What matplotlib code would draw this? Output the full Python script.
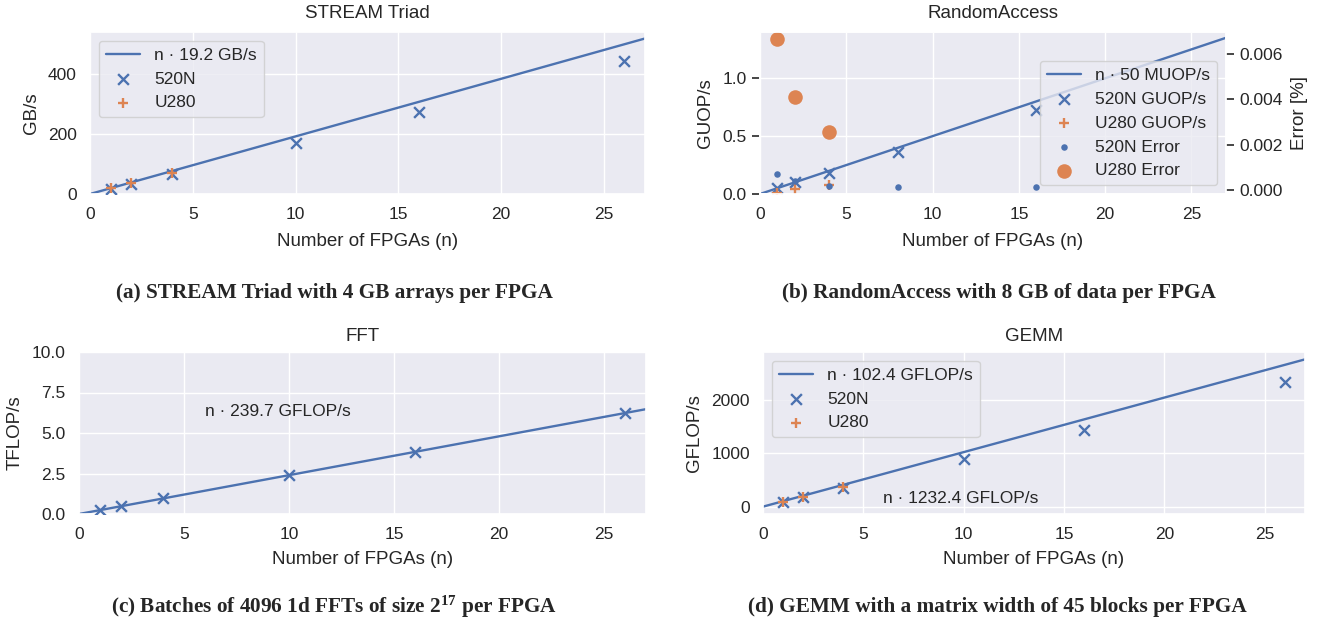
import numpy as np
import matplotlib
matplotlib.use("Agg")
import matplotlib.pyplot as plt
import seaborn as sns

sns.set_theme(style="darkgrid")
plt.rcParams["font.family"] = ["Liberation Sans", "DejaVu Sans"]
plt.rcParams["mathtext.fontset"] = "stix"
plt.rcParams["axes.titlepad"] = 10
plt.rcParams["axes.labelpad"] = 6

blue, orange = sns.color_palette("deep")[0], sns.color_palette("deep")[1]

# ---- data ----
n_520 = [1, 2, 4, 10, 16, 26]
n_u280 = [1, 2, 4]

stream_rate = 19.2  # GB/s per FPGA
stream_520 = [18, 35, 68, 170, 272, 443]
stream_u280 = [19, 37, 70]

ra_rate = 0.05  # GUOP/s per FPGA
n_ra_520 = [1, 2, 4, 8, 16]
ra_520 = [0.055, 0.10, 0.18, 0.365, 0.728]
ra_u280 = [0.012, 0.04, 0.08]
ra_err_520 = [0.0007, 0.0004, 0.000175, 0.00015, 0.00015]
ra_err_u280 = [0.00665, 0.0041, 0.00258]

fft_rate = 0.2397  # TFLOP/s per FPGA
fft_520 = [0.24, 0.48, 0.96, 2.40, 3.83, 6.23]

gemm_rate = 102.4  # GFLOP/s per FPGA
gemm_520 = [88, 181, 350, 897, 1440, 2342]
gemm_u280 = [92, 185, 360]

xs = np.array([0, 27])

fig = plt.figure(figsize=(13.18, 6.25), dpi=100)
W, H = 1318, 625


def add_ax(l, r, t, b):
    return fig.add_axes([l / W, 1 - b / H, (r - l) / W, (b - t) / H])


fs = 13.5
tfs = 12.5
ms = 60
lw = 1.7

# (a) STREAM
ax = add_ax(90, 645, 32, 194)
ax.plot(xs, stream_rate * xs, color=blue, lw=lw, label="n · 19.2 GB/s")
ax.scatter(n_520, stream_520, marker="x", color=blue, s=ms, lw=1.7, label="520N", zorder=3)
ax.scatter(n_u280, stream_u280, marker="+", color=orange, s=ms, lw=1.7, label="U280", zorder=3)
ax.set_xlim(0, 27)
ax.set_ylim(0, 540)
ax.set_yticks([0, 200, 400])
ax.set_title("STREAM Triad", fontsize=fs)
ax.set_xlabel("Number of FPGAs (n)", fontsize=fs, labelpad=8)
ax.set_ylabel("GB/s", fontsize=fs)
ax.tick_params(labelsize=tfs)
ax.legend(loc="upper left", fontsize=tfs)

# (b) RandomAccess
ax = add_ax(760, 1226, 32, 194)
ax2 = ax.twinx()
h1, = ax.plot(xs, ra_rate * xs, color=blue, lw=lw, label="n · 50 MUOP/s")
h2 = ax.scatter(n_ra_520, ra_520, marker="x", color=blue, s=ms, lw=1.7, label="520N GUOP/s", zorder=3)
h3 = ax.scatter(n_u280, ra_u280, marker="+", color=orange, s=ms, lw=1.7, label="U280 GUOP/s", zorder=3)
h4 = ax2.scatter(n_ra_520, ra_err_520, marker="o", color=blue, s=22, lw=0, label="520N Error")
h5 = ax2.scatter(n_u280, ra_err_u280, marker="o", color=orange, s=110, lw=0, label="U280 Error")
ax.set_xlim(0, 27)
ax.set_ylim(0, 1.4)
ax.set_yticks([0, 0.5, 1.0])
ax2.set_ylim(-0.00016, 0.00695)
ax2.set_yticks([0, 0.002, 0.004, 0.006])
ax2.yaxis.set_major_formatter(matplotlib.ticker.FormatStrFormatter("%.3f"))
ax2.grid(False)
ax.set_title("RandomAccess", fontsize=fs)
ax.set_xlabel("Number of FPGAs (n)", fontsize=fs, labelpad=8)
ax.set_ylabel("GUOP/s", fontsize=fs)
ax2.set_ylabel("Error [%]", fontsize=fs)
ax.tick_params(labelsize=tfs)
ax.tick_params(axis="y", left=True, length=6, width=1.2, color="#262626")
ax2.tick_params(axis="y", right=True, labelsize=tfs, length=6, width=1.2, color="#262626")
ax2.legend(handles=[h1, h2, h3, h4, h5], loc="lower right", fontsize=tfs)

# (c) FFT
ax = add_ax(79, 646, 352, 514)
ax.plot(xs, fft_rate * xs, color=blue, lw=lw)
ax.scatter(n_520, fft_520, marker="x", color=blue, s=ms, lw=1.7, zorder=3)
ax.text(6, 6.3, "n · 239.7 GFLOP/s", fontsize=tfs, va="center")
ax.set_xlim(0, 27)
ax.set_ylim(0, 10)
ax.set_yticks([0, 2.5, 5, 7.5, 10])
ax.yaxis.set_major_formatter(matplotlib.ticker.FormatStrFormatter("%.1f"))
ax.set_title("FFT", fontsize=fs, pad=8)
ax.set_xlabel("Number of FPGAs (n)", fontsize=fs)
ax.set_ylabel("TFLOP/s", fontsize=fs)
ax.tick_params(labelsize=tfs)

# (d) GEMM
ax = add_ax(763, 1305, 352, 514)
ax.plot(xs, gemm_rate * xs, color=blue, lw=lw, label="n · 102.4 GFLOP/s")
ax.scatter(n_520, gemm_520, marker="x", color=blue, s=ms, lw=1.7, label="520N", zorder=3)
ax.scatter(n_u280, gemm_u280, marker="+", color=orange, s=ms, lw=1.7, label="U280", zorder=3)
ax.text(6, 150, "n · 1232.4 GFLOP/s", fontsize=tfs, va="center")
ax.set_xlim(0, 27)
ax.set_ylim(-138, 2903)
ax.set_yticks([0, 1000, 2000])
ax.set_title("GEMM", fontsize=fs, pad=8)
ax.set_xlabel("Number of FPGAs (n)", fontsize=fs)
ax.set_ylabel("GFLOP/s", fontsize=fs)
ax.tick_params(labelsize=tfs)
ax.legend(loc="upper left", fontsize=tfs)

cap = dict(fontsize=15.3, fontweight="bold", family="Liberation Serif", ha="center", va="center")
fig.text(334 / W, 1 - 293 / H, "(a) STREAM Triad with 4 GB arrays per FPGA", **cap)
fig.text(999 / W, 1 - 293 / H, "(b) RandomAccess with 8 GB of data per FPGA", **cap)
fig.text(334 / W, 1 - 607 / H, r"(c) Batches of 4096 1d FFTs of size $\mathregular{2^{17}}$ per FPGA", **cap)
fig.text(997 / W, 1 - 607 / H, "(d) GEMM with a matrix width of 45 blocks per FPGA", **cap)

fig.savefig("out.png", dpi=100)
